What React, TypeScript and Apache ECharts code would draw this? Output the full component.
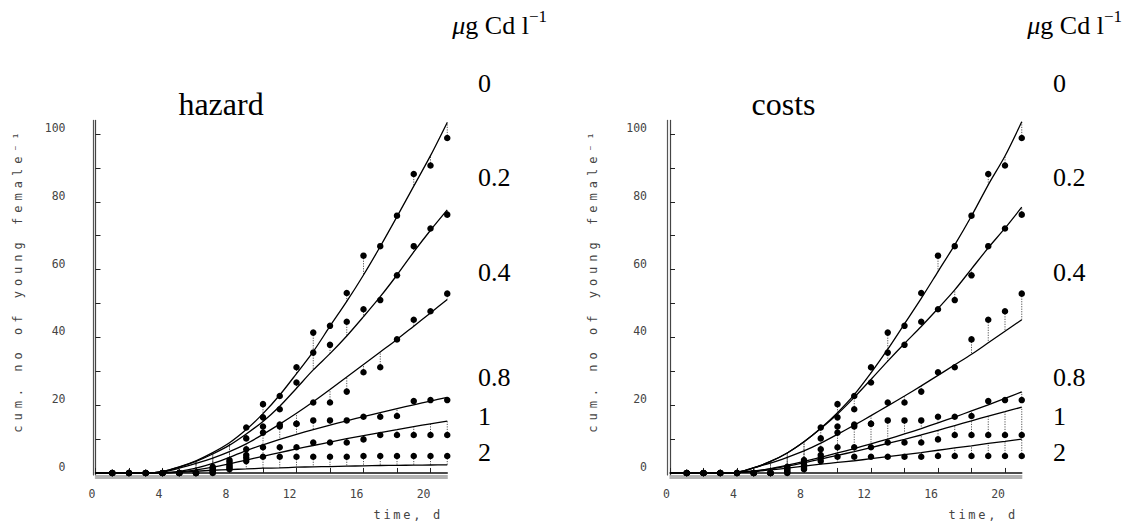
import React, { useEffect, useRef } from "react";
import * as echarts from "echarts";

// ---------- data ----------
const days = [1, 2, 3, 4, 5, 6, 7, 8, 9, 10, 11, 12, 13, 14, 15, 16, 17, 18, 19, 20, 21];
const curveDays = [0, 1, 2, 3, 4, 5, 6, 7, 8, 9, 10, 11, 12, 13, 14, 15, 16, 17, 18, 19, 20, 21];
const concentrations = ["0", "0.2", "0.4", "0.8", "1", "2"];

// observed cumulative young per female (days 1..21)
const obs0 = [0, 0, 0, 0, 0, 0, 1.8, 3.8, 13.4, 20.3, 22.7, 31.2, 41.4, 43.4, 53.1, 64.1, 66.9, 75.9, 88.2, 90.7, 98.8];
const obs02 = [0, 0, 0, 0, 0, 0, 1.4, 3.2, 10.2, 16.4, 18.8, 26.7, 35.5, 37.8, 44.6, 48.3, 51.0, 58.3, 66.9, 72.1, 76.2];
const obs04 = [0, 0, 0, 0, 0, 0, 1.0, 2.5, 7.0, 13.7, 14.3, 14.5, 20.8, 20.8, 24.0, 29.7, 31.2, 39.4, 45.2, 47.7, 52.9];
const obs08 = [0, 0, 0, 0, 0, 0, 0.6, 2.0, 5.3, 11.9, 13.7, 14.5, 15.5, 15.5, 15.5, 16.6, 16.6, 16.8, 21.2, 21.5, 21.5];
const obs1 = [0, 0, 0, 0, 0, 0, 0.3, 1.5, 4.5, 7.6, 7.6, 7.6, 9.0, 9.0, 9.0, 9.9, 11.2, 11.2, 11.2, 11.2, 11.2];
const obs2 = [0, 0, 0, 0, 0, 0, 0, 1.1, 3.5, 4.8, 4.8, 4.8, 4.8, 4.8, 4.8, 5.0, 5.0, 5.0, 5.0, 5.0, 5.0];

// model curves, "hazard" panel (days 0..21)
const hazard0 = [0, 0, 0, 0, 0.4, 1.8, 3.6, 6.0, 8.9, 12.8, 17.5, 23.0, 29.3, 35.8, 43.3, 50.6, 58.4, 66.8, 75.6, 84.6, 93.6, 103.4];
const hazard02 = [0, 0, 0, 0, 0.4, 1.7, 3.4, 5.6, 8.2, 11.5, 15.2, 19.7, 25.0, 30.4, 35.2, 40.4, 46.1, 52.0, 58.4, 65.2, 71.6, 77.6];
const hazard04 = [0, 0, 0, 0, 0.3, 1.4, 2.8, 4.4, 6.3, 8.6, 11.4, 14.4, 17.6, 21.0, 24.6, 28.3, 32.0, 35.7, 39.4, 43.3, 47.2, 51.2];
const hazard08 = [0, 0, 0, 0, 0.1, 0.5, 1.4, 2.8, 4.6, 6.6, 8.3, 9.9, 11.4, 12.8, 14.1, 15.4, 16.6, 17.8, 19.0, 20.1, 21.2, 22.3];
const hazard1 = [0, 0, 0, 0, 0, 0.3, 0.9, 1.7, 2.7, 3.8, 4.9, 6.0, 7.1, 8.1, 9.1, 10.1, 11.0, 11.9, 12.8, 13.7, 14.5, 15.3];
const hazard2 = [0, 0, 0, 0, 0, 0.2, 0.5, 0.8, 1.0, 1.2, 1.4, 1.5, 1.7, 1.8, 1.9, 2.0, 2.1, 2.2, 2.25, 2.3, 2.35, 2.4];

// model curves, "costs" panel (days 0..21)
const costs0 = [0, 0, 0, 0, 0.2, 1.5, 3.4, 5.9, 9.2, 13.2, 17.8, 23.1, 29.5, 36.5, 44.0, 51.5, 59.4, 67.3, 75.8, 85.0, 93.5, 103.6];
const costs02 = [0, 0, 0, 0, 0.2, 1.5, 3.4, 5.9, 9.2, 13.1, 17.4, 22.3, 27.6, 33.0, 38.2, 43.2, 48.5, 54.0, 60.2, 66.4, 72.2, 78.4];
const costs04 = [0, 0, 0, 0, 0.2, 1.6, 2.9, 4.6, 6.5, 8.8, 11.4, 14.1, 16.9, 19.8, 22.7, 25.7, 28.8, 31.9, 35.0, 38.4, 41.8, 45.2];
const costs08 = [0, 0, 0, 0, 0.1, 0.6, 1.3, 2.3, 3.4, 4.6, 5.9, 7.2, 8.6, 10.0, 11.5, 13.1, 14.8, 16.5, 18.3, 20.1, 22.0, 23.9];
const costs1 = [0, 0, 0, 0, 0.1, 0.5, 1.2, 2.0, 3.0, 4.1, 5.2, 6.3, 7.5, 8.7, 9.9, 11.2, 12.6, 14.0, 15.4, 16.8, 18.1, 19.4];
const costs2 = [0, 0, 0, 0, 0.1, 0.4, 0.9, 1.4, 2.0, 2.6, 3.1, 3.6, 4.2, 4.8, 5.4, 6.0, 6.7, 7.4, 8.0, 8.7, 9.3, 10.0];

const yTicks = [0, 10, 20, 30, 40, 50, 60, 70, 80, 90, 100];
const yTickLabels = [0, 20, 40, 60, 80, 100];
const xTicks = [0, 2, 4, 6, 8, 10, 12, 14, 16, 18, 20];
const xTickLabels = [0, 4, 8, 12, 16, 20];

const panelTitles = ["hazard", "costs"];
const yAxisTitle = "cum. no of young female\u207B\u00B9";
const xAxisTitle = "time, d";

const obsSets = [obs0, obs02, obs04, obs08, obs1, obs2];
const modelSets = [
  [hazard0, hazard02, hazard04, hazard08, hazard1, hazard2],
  [costs0, costs02, costs04, costs08, costs1, costs2],
];

// ---------- layout ----------
const PANELS = [
  { left: 95.5, titleX: 221, labelX: 478, unitRight: 547, yNameX: 18, xNameRight: 443, yLabelMargin: 30 },
  { left: 670, titleX: 783.5, labelX: 1053, unitRight: 1122, yNameX: 593, xNameRight: 1018, yLabelMargin: 23 },
];
const GRID_TOP = 120.4;
const GRID_W = 351.75;
const GRID_H = 354.6;
const LABEL_YS = [83.5, 177, 272, 377, 416.5, 452.5];

const MONO = '"DejaVu Sans Mono", monospace';
const SERIF = '"Liberation Serif", "Times New Roman", serif';

function buildOption() {
  const grids: any[] = [];
  const xAxes: any[] = [];
  const yAxes: any[] = [];
  const series: any[] = [];
  const graphics: any[] = [];

  PANELS.forEach((p, g) => {
    grids.push({ left: p.left, top: GRID_TOP, width: GRID_W, height: GRID_H, containLabel: false });

    // primary x axis (on y = 0)
    xAxes.push({
      gridIndex: g,
      type: "value",
      position: "bottom",
      min: 0,
      max: 21,
      axisLine: { show: true, onZero: true, lineStyle: { color: "#111", width: 1.5 } },
      axisTick: { show: true, inside: true, length: 5, customValues: xTicks, lineStyle: { color: "#222", width: 1 } },
      axisLabel: {
        show: true,
        customValues: xTickLabels,
        align: "right",
        margin: 13,
        fontFamily: MONO,
        fontSize: 11.5,
        color: "#444",
      },
      splitLine: { show: false },
    });
    // decorative double frame lines
    [0.5, 3.2].forEach((off) => {
      xAxes.push({
        gridIndex: g,
        type: "value",
        position: "bottom",
        offset: off,
        min: 0,
        max: 21,
        axisLine: { show: true, onZero: false, lineStyle: { color: "#999", width: 1.5 } },
        axisTick: { show: false },
        axisLabel: { show: false },
        splitLine: { show: false },
      });
    });

    yAxes.push({
      gridIndex: g,
      type: "value",
      position: "left",
      min: -0.6,
      max: 104,
      axisLine: { show: true, onZero: true, lineStyle: { color: "#444", width: 1.2 } },
      axisTick: { show: true, inside: true, length: 5, customValues: yTicks, lineStyle: { color: "#222", width: 1 } },
      axisLabel: {
        show: true,
        customValues: yTickLabels,
        verticalAlign: "bottom",
        margin: p.yLabelMargin,
        fontFamily: MONO,
        fontSize: 11.5,
        color: "#444",
      },
      splitLine: { show: false },
    });
    yAxes.push({
      gridIndex: g,
      type: "value",
      position: "left",
      offset: 2.5,
      min: -0.6,
      max: 104,
      axisLine: { show: true, onZero: false, lineStyle: { color: "#555", width: 1.2 } },
      axisTick: { show: false },
      axisLabel: { show: false },
      splitLine: { show: false },
    });

    const xi = g * 3;
    const yi = g * 2;

    concentrations.forEach((c, k) => {
      const model = modelSets[g][k];
      const obs = obsSets[k];
      series.push({
        type: "custom",
        name: `resid-${g}-${c}`,
        xAxisIndex: xi,
        yAxisIndex: yi,
        silent: true,
        z: 2,
        encode: { x: 0, y: [1, 2] },
        data: days.map((d, i) => [d, obs[i], model[curveDays.indexOf(d)]]),
        renderItem: (params: any, api: any) => {
          const a = api.coord([api.value(0), api.value(1)]);
          const b = api.coord([api.value(0), api.value(2)]);
          return {
            type: "line",
            shape: { x1: a[0], y1: a[1], x2: b[0], y2: b[1] },
            style: { stroke: "#555", lineWidth: 1, lineDash: [1.2, 1.3] },
          };
        },
      });
      series.push({
        type: "line",
        name: `model-${g}-${c}`,
        xAxisIndex: xi,
        yAxisIndex: yi,
        silent: true,
        z: 3,
        showSymbol: false,
        symbol: "none",
        smooth: 0.3,
        lineStyle: { color: "#000", width: 1.3 },
        data: curveDays.map((d, i) => [d, model[i]]),
      });
      series.push({
        type: "scatter",
        name: `obs-${g}-${c}`,
        xAxisIndex: xi,
        yAxisIndex: yi,
        silent: true,
        z: 4,
        symbol: "circle",
        symbolSize: 6.5,
        itemStyle: { color: "#000", opacity: 1 },
        data: days.map((d, i) => [d, obs[i]]),
      });
    });

    // texts
    graphics.push({
      type: "text",
      silent: true,
      x: p.titleX,
      y: 104,
      style: { text: panelTitles[g], fontFamily: SERIF, fontSize: 32, fill: "#000", align: "center", verticalAlign: "middle" },
    });
    graphics.push({
      type: "text",
      silent: true,
      x: p.unitRight,
      y: 23,
      style: {
        text: "{mu|\u03BC}{n|g Cd l}{sup|\u22121}",
        align: "right",
        verticalAlign: "middle",
        fill: "#000",
        rich: {
          mu: { fontFamily: SERIF, fontSize: 26, fontStyle: "italic", lineHeight: 30, verticalAlign: "bottom" },
          n: { fontFamily: SERIF, fontSize: 26, lineHeight: 30, verticalAlign: "bottom" },
          sup: { fontFamily: SERIF, fontSize: 17, lineHeight: 18, verticalAlign: "top" },
        },
      },
    });
    concentrations.forEach((c, k) => {
      graphics.push({
        type: "text",
        silent: true,
        x: p.labelX,
        y: LABEL_YS[k],
        style: { text: c, fontFamily: SERIF, fontSize: 26, fill: "#000", align: "left", verticalAlign: "middle" },
      });
    });
    graphics.push({
      type: "text",
      silent: true,
      x: p.yNameX,
      y: 280,
      rotation: Math.PI / 2,
      style: { text: yAxisTitle, fontFamily: MONO, fontSize: 12, fill: "#444", align: "center", verticalAlign: "middle" },
    });
    graphics.push({
      type: "text",
      silent: true,
      x: p.xNameRight,
      y: 515,
      style: { text: xAxisTitle, fontFamily: MONO, fontSize: 12, fill: "#444", align: "right", verticalAlign: "middle" },
    });
  });

  return {
    animation: false,
    backgroundColor: "#fff",
    grid: grids,
    xAxis: xAxes,
    yAxis: yAxes,
    series,
    graphic: graphics,
  };
}

function applyLetterSpacing(root: HTMLElement | null) {
  if (!root) return;
  root.querySelectorAll("text").forEach((el) => {
    const t = el.textContent || "";
    if (t.startsWith("cum.")) el.style.letterSpacing = "5px";
    else if (t === xAxisTitle) el.style.letterSpacing = "2.7px";
  });
}

export default function App() {
  const ref = useRef<HTMLDivElement>(null);
  useEffect(() => {
    if (!ref.current) return;
    const chart = echarts.init(ref.current, undefined, { renderer: "svg" });
    chart.setOption(buildOption() as any);
    applyLetterSpacing(ref.current);
    chart.on("finished", () => applyLetterSpacing(ref.current));
    return () => {
      chart.dispose();
    };
  }, []);
  return (
    <div
      ref={ref}
      style={{ position: "fixed", left: 0, top: 0, width: 1123, height: 532, background: "#fff" }}
    />
  );
}
